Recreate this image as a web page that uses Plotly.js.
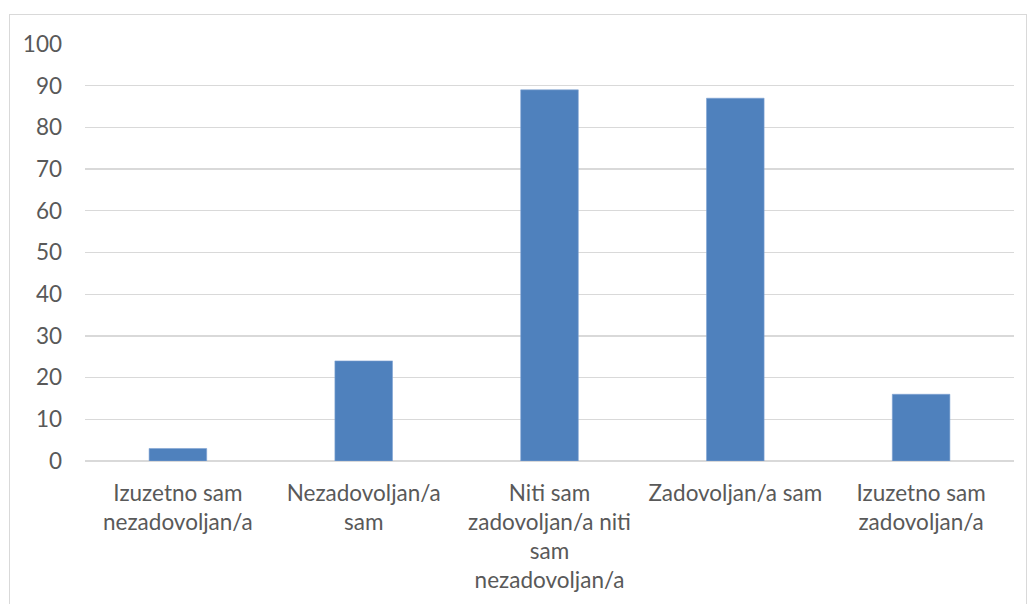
<!DOCTYPE html>
<html>
<head>
<meta charset="utf-8">
<script src="https://cdn.plot.ly/plotly-3.0.1.min.js"></script>
<style>
html,body{margin:0;padding:0;background:#fff;}
#wrap{position:relative;width:1027px;height:604px;overflow:hidden;}
#chart{position:absolute;left:0;top:0;width:1027px;height:604px;}
#frame{position:absolute;left:9px;top:14px;width:1016px;height:620px;border:1px solid #D9D9D9;pointer-events:none;}
</style>
</head>
<body>
<div id="wrap"><div id="chart"></div><div id="frame"></div></div>
<script>
const categories = [
  "Izuzetno sam<br>nezadovoljan/a",
  "Nezadovoljan/a<br>sam",
  "Niti sam<br>zadovoljan/a niti<br>sam<br>nezadovoljan/a",
  "Zadovoljan/a sam",
  "Izuzetno sam<br>zadovoljan/a"
];
const values = [3, 24, 89, 87, 16];
const yTicks = [0, 10, 20, 30, 40, 50, 60, 70, 80, 90, 100];

const font = {family: "Lato, Open Sans, sans-serif", size: 22.5, color: "#595959"};

Plotly.newPlot("chart", [{
  type: "bar",
  x: categories,
  y: values,
  marker: {color: "#4F81BD", line: {color: "#7FA3D3", width: 0.6}},
  hoverinfo: "none"
}], {
  width: 1027,
  height: 604,
  margin: {l: 85, r: 13, t: 44, b: 143},
  paper_bgcolor: "#ffffff",
  plot_bgcolor: "#ffffff",
  bargap: 0.69,
  showlegend: false,
  font: font,
  xaxis: {
    type: "category",
    showgrid: false,
    showline: false,
    zeroline: false,
    ticks: "",
    tickfont: font,
    tickangle: 0,
    automargin: false,
    ticklabelstandoff: 16
  },
  yaxis: {
    range: [0, 100],
    tickvals: yTicks,
    ticktext: yTicks.map(String),
    showgrid: true,
    gridcolor: "#D9D9D9",
    gridwidth: 1.3,
    zeroline: true,
    zerolinecolor: "#D9D9D9",
    zerolinewidth: 1.5,
    showline: false,
    ticks: "",
    tickfont: font,
    automargin: false,
    ticklabelstandoff: 22
  }
}, {displayModeBar: false, staticPlot: true});
</script>
</body>
</html>
